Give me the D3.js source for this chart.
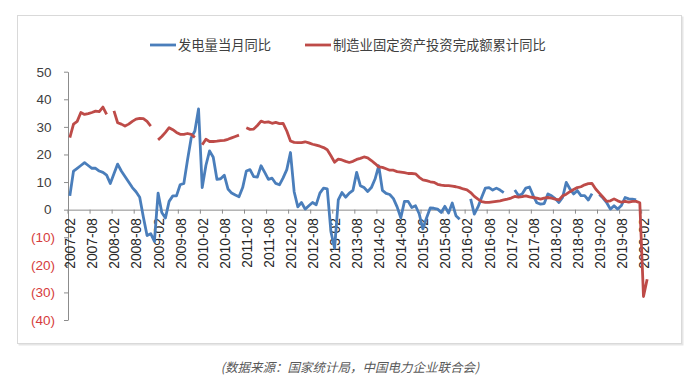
<!DOCTYPE html>
<html>
<head>
<meta charset="utf-8">
<script src="https://cdn.jsdelivr.net/npm/d3@7"></script>
<style>
  body { margin: 0; background: #fff; }
  text { font-family: "Liberation Sans", Arial, sans-serif; }
  .cjk { font-family: "Noto Sans CJK SC", sans-serif; }
</style>
</head>
<body>
<div id="chart"></div>
<script>
// monthly categories 2007-02 .. 2020-03
var months = d3.timeMonth.range(new Date(2007, 1, 1), new Date(2020, 3, 1))
    .map(d3.timeFormat("%Y-%m"));

var tickLabels = ["2007-02","2007-08","2008-02","2008-08","2009-02","2009-08",
    "2010-02","2010-08","2011-02","2011-08","2012-02","2012-08","2013-02","2013-08",
    "2014-02","2014-08","2015-02","2015-08","2016-02","2016-08","2017-02","2017-08",
    "2018-02","2018-08","2019-02","2019-08","2020-02"];

var yTicks = [-40, -30, -20, -10, 0, 10, 20, 30, 40, 50];

var seriesNames = ["发电量当月同比", "制造业固定资产投资完成额累计同比"];

// 发电量当月同比 (%)
var power = [5, 14, 15, 16, 17, 16, 15, 15, 14, 13.5, 12.5, 9.5,
    13, 16.5, 14, 12, 10, 8, 6.5, 4.5, -2.8, -9.4, -8.7, -11.5,
    6, -1, -3, 3, 5, 5, 9, 9.5, 18, 26, 28.5, 36.5,
    8, 16, 21.3, 19, 11, 11.2, 12.5, 7.5, 6, 5.3, 4.7, 8,
    14, 14.5, 12, 11.8, 15.9, 13.5, 11, 11.4, 9.5, 9, 11.5, 14.5,
    20.7, 6.5, 1, 2.6, 0.2, 1.4, 2.6, 1.8, 6, 7.8, 7.5, -8,
    -14, 3.5, 6.2, 4.5, 6, 7, 13.5, 8.7, 8, 6.6, 8, 11.1,
    15.9, 7, 5.9, 5.5, 4, 1, -3, 3, 3, 0.8, 1.4, -1.5,
    -7, -3, 0.6, 0.5, 0.2, -1, 1.2, -1.2, 2.4, -2.2, -3.5, null,
    null, 3.9, -1.6, 1, 4.5, 7.8, 8, 7.1, 7.8, 7.1, 6.2, null,
    null, 7.1, 5.1, 5.7, 7.8, 8.2, 5.1, 2.5, 2, 2.2, 5.7, 5,
    4, 2.6, 4.4, 9.9, 7.5, 5.7, 6.9, 5.1, 5.1, 3.5, 5.8, null,
    5.5, 4.2, 2.5, 0.2, 1.4, 0.2, 1.5, 4.4, 3.9, 3.8, 3.5, null,
    null, null];

// 制造业固定资产投资完成额累计同比 (%)
var investment = [26.1, 31, 32, 35.2, 34.5, 34.8, 35.2, 35.7, 35.5, 37.2, 34.5, null,
    35.8, 31.5, 31, 30.3, 31, 32, 32.8, 33.1, 33, 32, 30.3, null,
    25.3, 26.5, 28, 29.7, 29, 28, 27.3, 27.3, 27.6, 27.3, 26.2, null,
    23.5, 25.5, 24.7, 24.7, 24.8, 25, 25.1, 25.5, 26, 26.5, 27, null,
    29.7, 29.1, 29.2, 30.5, 32.1, 31.6, 31.8, 31.3, 31.6, 31.2, 31.3, 28.5,
    24.9, 24.4, 24.3, 24.3, 24.6, 24.2, 23.7, 23.4, 23, 22.5, 21.7, 19.5,
    17.2, 18.3, 18, 17.5, 17.1, 17.5, 18.2, 18.6, 19.1, 18.8, 17.8, 16.7,
    15.5, 15.3, 14.8, 14.3, 14.3, 13.8, 13.6, 13.4, 13.1, 13.1, 13, 11.7,
    10.8, 10.5, 10.1, 9.9, 9.2, 8.9, 8.7, 8.7, 8.5, 8.3, 8, 7.5,
    7.2, 6.2, 4.8, 3.8, 2.9, 2.6, 2.6, 2.8, 3, 3.2, 3.5, 3.8,
    4.2, 4.8, 4.5, 4.7, 5, 4.6, 4.4, 4.2, 3.8, 4.2, 4.4, 4.2,
    3.8, 3.5, 5, 5.6, 6.5, 7.3, 8, 8.3, 9, 9.4, 9.5, 7.5,
    6, 4.5, 3, 3.2, 3.9, 3.2, 2.7, 3, 2.7, 3, 3, 2.5,
    -31.5, -25.2];

var colors = ["#4a7ebb", "#be4b48"];

var W = 697, H = 384;

var svg = d3.select("#chart").append("svg")
    .attr("width", W)
    .attr("height", H);

// frame with soft shadow
svg.append("rect")
    .attr("x", 18.5).attr("y", 16.5).attr("width", 665).attr("height", 329)
    .attr("fill", "#e6e6e6");
svg.append("rect")
    .attr("x", 17.5).attr("y", 15.5).attr("width", 664).attr("height", 328)
    .attr("fill", "#fff")
    .attr("stroke", "#d9d9d9");

var x = d3.scaleBand()
    .domain(months)
    .range([68, 649])
    .paddingInner(0).paddingOuter(0);
var bw = x.bandwidth();

var y = d3.scaleLinear()
    .domain([-40, 50])
    .range([320, 71.7]);

// y axis
var yAxis = svg.append("g")
    .attr("transform", "translate(68,0)")
    .call(d3.axisLeft(y).tickValues(yTicks).tickSize(4).tickSizeOuter(0)
        .tickFormat(function(d) { return d < 0 ? "(" + (-d) + ")" : d; }));
yAxis.select(".domain").attr("stroke", "#8c8c8c");
yAxis.selectAll(".tick line").attr("stroke", "#8c8c8c");
yAxis.selectAll(".tick text")
    .attr("font-size", 13.5)
    .attr("fill", function(d) { return d < 0 ? "#d63c3c" : "#404040"; })
    .attr("x", function(d) { return d < 0 ? -13 : -16.5; });

// x axis at zero
var xAxis = svg.append("g")
    .attr("transform", "translate(0," + y(0) + ")")
    .call(d3.axisBottom(x).tickValues(tickLabels).tickSize(4).tickSizeOuter(0));
xAxis.select(".domain").attr("stroke", "#8c8c8c");
xAxis.selectAll(".tick line")
    .attr("stroke", "#8c8c8c")
    .attr("x1", -bw / 2).attr("x2", -bw / 2);
xAxis.selectAll(".tick text")
    .attr("font-size", 13.8)
    .attr("fill", "#262626")
    .attr("transform", "rotate(-90)")
    .attr("text-anchor", "end")
    .attr("x", -8.5)
    .attr("y", 0.5)
    .attr("dy", "0.36em");

// lines
var line = d3.line()
    .defined(function(d) { return d != null; })
    .x(function(d, i) { return x(months[i]) + bw / 2; })
    .y(function(d) { return y(d); });

[power, investment].forEach(function(s, k) {
    svg.append("path")
        .datum(s)
        .attr("fill", "none")
        .attr("stroke", colors[k])
        .attr("stroke-width", 2.8)
        .attr("stroke-linejoin", "round")
        .attr("d", line);
});

// legend
var legendX = [150, 305];
seriesNames.forEach(function(name, k) {
    svg.append("line")
        .attr("x1", legendX[k]).attr("x2", legendX[k] + 26)
        .attr("y1", 45).attr("y2", 45)
        .attr("stroke", colors[k])
        .attr("stroke-width", 2.8);
    svg.append("text")
        .attr("class", "cjk")
        .attr("x", legendX[k] + 28)
        .attr("y", 45)
        .attr("dy", "0.36em")
        .attr("font-size", 13.3)
        .attr("fill", "#404040")
        .text(name);
});

// source note
svg.append("text")
    .attr("class", "cjk")
    .attr("x", 350)
    .attr("y", 372)
    .attr("text-anchor", "middle")
    .attr("font-size", 12.5)
    .attr("font-style", "italic")
    .attr("fill", "#595959")
    .text("(数据来源：国家统计局，中国电力企业联合会)");
</script>
</body>
</html>
